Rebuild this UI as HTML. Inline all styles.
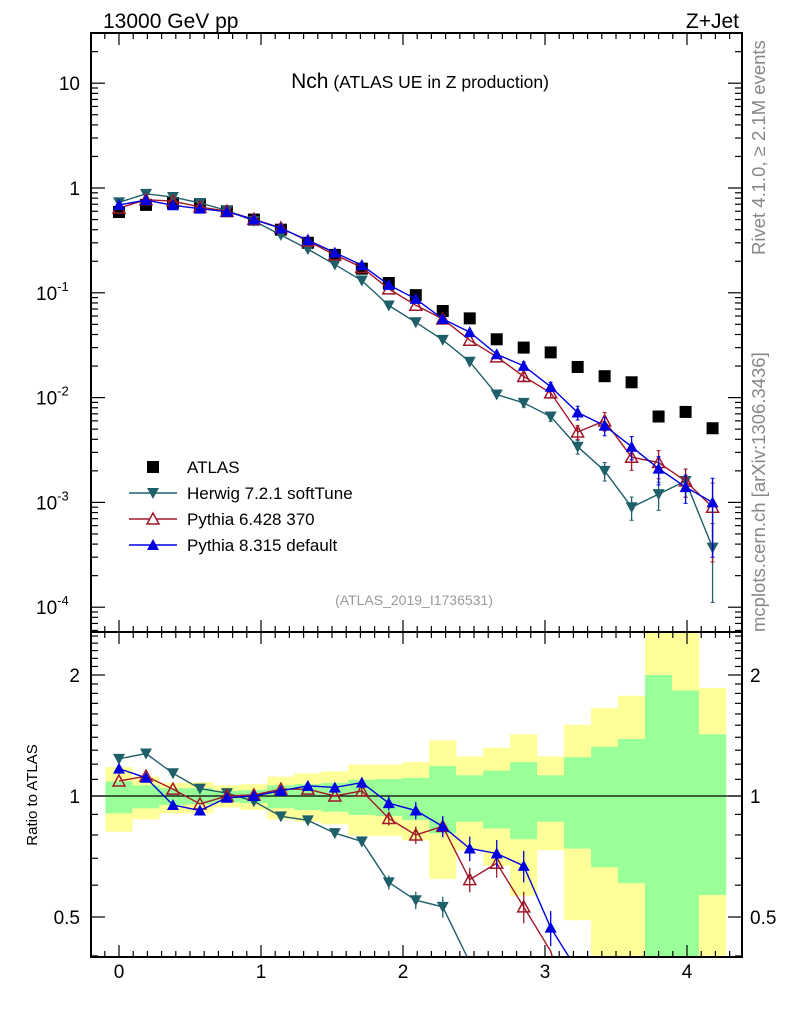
<!DOCTYPE html>
<html><head><meta charset="utf-8"><style>
html,body{margin:0;background:#fff;overflow:hidden;width:786px;height:1024px}
svg{display:block;font-family:"Liberation Sans",sans-serif;overflow:hidden}
</style></head><body>
<svg id="c" width="786" height="1024" viewBox="0 0 786 1024">
<g id="bands"></g><g id="marks"></g><g id="axes"></g>
<text x="103" y="28" font-size="21">13000 GeV pp</text>
<text x="739" y="28" font-size="21" text-anchor="end">Z+Jet</text>
<text x="420" y="88" text-anchor="middle"><tspan font-size="21">Nch</tspan><tspan font-size="17.5"> (ATLAS UE in Z production)</tspan></text>
<text x="414" y="605" font-size="14" fill="#999" text-anchor="middle">(ATLAS_2019_I1736531)</text>
<text transform="translate(765,255) rotate(-90)" font-size="18.5" fill="#888" x="0" y="0">Rivet 4.1.0, ≥ 2.1M events</text>
<text transform="translate(765,632) rotate(-90)" font-size="18.5" fill="#888" x="0" y="0">mcplots.cern.ch [arXiv:1306.3436]</text>
<text transform="translate(37,795) rotate(-90)" font-size="15" text-anchor="middle" x="0" y="0">Ratio to ATLAS</text>
<g>
<rect x="147" y="461" width="12" height="12" fill="#000"/>
<text x="187" y="473" font-size="17">ATLAS</text>
<line x1="129" y1="493" x2="177" y2="493" stroke="#1f5f6a" stroke-width="1.5"/><path d="M147,488 L159,488 L153,499 Z" fill="#1f5f6a"/>
<text x="187" y="499" font-size="17">Herwig 7.2.1 softTune</text>
<line x1="129" y1="519" x2="177" y2="519" stroke="#a0182a" stroke-width="1.5"/><path d="M153,513 L159,524 L147,524 Z" fill="#fff" stroke="#a0182a" stroke-width="1.5"/>
<text x="187" y="525" font-size="17">Pythia 6.428 370</text>
<line x1="129" y1="545" x2="177" y2="545" stroke="#0000e0" stroke-width="1.5"/><path d="M153,539 L159,550 L147,550 Z" fill="#0000e0"/>
<text x="187" y="551" font-size="17">Pythia 8.315 default</text>
</g>
</svg>
<script>
const xVals=[0,0.19,0.38,0.57,0.76,0.95,1.14,1.33,1.52,1.71,1.9,2.09,2.28,2.47,2.66,2.85,3.04,3.23,3.42,3.61,3.80,3.99,4.18];
const atlas=[0.59,0.69,0.72,0.69,0.60,0.50,0.40,0.30,0.23,0.17,0.124,0.095,0.067,0.057,0.036,0.030,0.027,0.0196,0.016,0.014,0.0066,0.0073,0.0051];
const herwig=[0.73,0.88,0.82,0.72,0.61,0.485,0.356,0.261,0.186,0.131,0.0756,0.0523,0.0355,0.022,0.0107,0.0089,0.0066,0.0034,0.002,0.0009,0.0012,0.0016,0.00037];
const pythia6=[0.643,0.773,0.749,0.659,0.6,0.503,0.416,0.312,0.23,0.175,0.109,0.076,0.0563,0.0353,0.0245,0.0159,0.0111,0.0047,0.006,0.0027,0.0024,0.0016,0.0009];
const pythia8=[0.69,0.766,0.684,0.635,0.594,0.5,0.412,0.318,0.2415,0.1836,0.119,0.0874,0.0563,0.0422,0.0259,0.0201,0.0127,0.0072,0.0054,0.0034,0.0021,0.0014,0.001];
const relErr=[0.02,0.02,0.02,0.02,0.02,0.02,0.02,0.02,0.02,0.03,0.04,0.05,0.06,0.07,0.08,0.09,0.1,0.15,0.2,0.25,0.3,0.3,0.7];
const yellowHi=[1.18,1.117,1.077,1.083,1.063,1.07,1.117,1.139,1.152,1.197,1.197,1.214,1.376,1.254,1.318,1.424,1.254,1.503,1.655,1.775,2.6,2.6,1.857];
const greenHi=[1.087,1.063,1.046,1.046,1.03,1.034,1.063,1.07,1.077,1.098,1.102,1.109,1.186,1.126,1.157,1.214,1.126,1.249,1.326,1.386,2.0,1.83,1.424];
const greenLo=[0.906,0.932,0.95,0.954,0.965,0.96,0.932,0.923,0.914,0.897,0.892,0.871,0.807,0.863,0.83,0.781,0.863,0.74,0.665,0.607,0.3,0.3,0.567];
const yellowLo=[0.815,0.875,0.906,0.906,0.936,0.923,0.875,0.863,0.85,0.796,0.796,0.776,0.622,0.733,0.671,0.565,0.733,0.491,0.3,0.3,0.3,0.3,0.3];
const xTicks=[0,1,2,3,4];
const mainTicks=[10,1,0.1,0.01,0.001,0.0001];
const mainTickLabels=["10","1","10|-1","10|-2","10|-3","10|-4"];
const ratioTicks=[2,1,0.5];

const L=91,R=742,T=33,MB=632,RB=957;
const X=v=>119+(v)*142;
const Ym=v=>188-Math.log10(v)*104.8;
const Yr=v=>Math.min(RB,Math.max(MB,796-Math.log10(v)*402));
const NS="http://www.w3.org/2000/svg";
function mk(p,tag,at){const e=document.createElementNS(NS,tag);for(const k in at)e.setAttribute(k,at[k]);p.appendChild(e);return e;}
const bands=document.getElementById('bands'),marks=document.getElementById('marks'),axes=document.getElementById('axes');
const hw=13.6;
xVals.forEach((x,i)=>{
 let y=mk(bands,'rect',{x:X(x)-hw,y:Yr(yellowHi[i]),width:2*hw,height:Yr(yellowLo[i])-Yr(yellowHi[i]),fill:'#ffff99'});
 
 
 let g=mk(bands,'rect',{x:X(x)-hw,y:Yr(greenHi[i]),width:2*hw,height:Yr(greenLo[i])-Yr(greenHi[i]),fill:'#99ff99'});
 
 
});
mk(marks,'line',{x1:L,x2:R,y1:Yr(1),y2:Yr(1),stroke:'#000','stroke-width':1.3});
xVals.forEach((x,i)=>{
 const r=mk(marks,'rect',{x:X(x)-6,y:Ym(atlas[i])-6,width:12,height:12,fill:'#000'});
 
 
});
const series=[{d:herwig,c:'#1f5f6a',m:'down',n:'herwig'},{d:pythia6,c:'#a0182a',m:'open',n:'pythia6'},{d:pythia8,c:'#0000e0',m:'up',n:'pythia8'}];
function marker(g,x,y,s){
 if(s.m==='down')return mk(g,'path',{d:`M${x-6},${y-5} L${x+6},${y-5} L${x},${y+6} Z`,fill:s.c});
 if(s.m==='up')return mk(g,'path',{d:`M${x},${y-6} L${x+6},${y+5} L${x-6},${y+5} Z`,fill:s.c});
 return mk(g,'path',{d:`M${x},${y-6} L${x+6},${y+5} L${x-6},${y+5} Z`,fill:'none',stroke:s.c,'stroke-width':1.5});
}
// clip a polyline to y<=RB by computing segment intersections
function clippedRatioPoints(ys){
 const pts=[];
 for(let i=0;i<xVals.length;i++){
  const x=X(xVals[i]),y=ys[i];
  if(y<=RB){pts.push([x,y]);}
  if(i+1<xVals.length){
   const x2=X(xVals[i+1]),y2=ys[i+1];
   if((y<=RB)!==(y2<=RB)){const t=(RB-y)/(y2-y);pts.push([x+t*(x2-x),RB]);}
  }
 }
 return pts;
}
series.forEach(s=>{
 const gm=mk(marks,'g',{});
 
 
 mk(gm,'polyline',{points:xVals.map((x,i)=>X(x)+','+Ym(s.d[i])).join(' '),fill:'none',stroke:s.c,'stroke-width':1.4});
 const gr=mk(marks,'g',{});
 
 
 const rys=xVals.map((x,i)=>796-Math.log10(s.d[i]/atlas[i])*402);
 mk(gr,'polyline',{points:clippedRatioPoints(rys).map(p=>p[0]+','+p[1]).join(' '),fill:'none',stroke:s.c,'stroke-width':1.4});
 xVals.forEach((x,i)=>{
  const v=s.d[i],e=relErr[i];
  const y1=Ym(v*(1+e)),y2=Ym(Math.max(v*(1-e),1e-6));
  if(y2-y1>8){mk(gm,'line',{x1:X(x),x2:X(x),y1:y1,y2:Math.min(y2,MB),stroke:s.c,'stroke-width':1.3});
   mk(gm,'line',{x1:X(x)-2,x2:X(x)+2,y1:y1,y2:y1,stroke:s.c});if(y2<MB)mk(gm,'line',{x1:X(x)-2,x2:X(x)+2,y1:y2,y2:y2,stroke:s.c});}
  const p=marker(gm,X(x),Ym(v),s);
  
  
  const ry=rys[i];
  if(ry>RB-6) return;
  const r=v/atlas[i];
  const ry1=796-Math.log10(r*(1+e))*402,ry2=Math.min(RB,796-Math.log10(r*(1-e))*402);
  if(ry2-ry1>8){mk(gr,'line',{x1:X(x),x2:X(x),y1:ry1,y2:ry2,stroke:s.c,'stroke-width':1.3});}
  const q=marker(gr,X(x),ry,s);
  
  
 });
});
[[T,MB],[MB,RB]].forEach(([a,b])=>mk(axes,'rect',{x:L,y:a,width:R-L,height:b-a,fill:'none',stroke:'#000','stroke-width':2}));
for(let k=-1;k<=43;k++){const v=k/10,x=X(v);if(x<L||x>R)continue;const maj=k%10===0;const len=maj?12:6;
 [[T,1],[MB,-1],[MB,1],[RB,-1]].forEach(([y,d])=>mk(axes,'line',{x1:x,x2:x,y1:y,y2:y+d*len,stroke:'#000','stroke-width':1.2}));}
xTicks.forEach(v=>{const t=mk(axes,'text',{x:X(v),y:978,'font-size':19,'text-anchor':'middle'});t.textContent=v;
 
 });
for(let d=-5;d<=1;d++)for(let m=1;m<=9;m++){const v=m*Math.pow(10,d),y=Ym(v);if(y<T||y>MB)continue;const len=m===1?14:7;
 mk(axes,'line',{x1:L,x2:L+len,y1:y,y2:y,stroke:'#000','stroke-width':1.2});mk(axes,'line',{x1:R,x2:R-len,y1:y,y2:y,stroke:'#000','stroke-width':1.2});}
mainTicks.forEach((v,i)=>{const [b,e]=mainTickLabels[i].split('|');const t=mk(axes,'text',{x:80,y:Ym(v)+7,'font-size':19,'text-anchor':'end'});
 
 
 t.textContent=b;if(e){const s=mk(t,'tspan',{dy:-9,'font-size':13});s.textContent=e;t.setAttribute('text-anchor','start');t.setAttribute('x',36);}});
[0.4,0.5,0.6,0.7,0.8,0.9,1,2].forEach(v=>{const y=796-Math.log10(v)*402;const maj=[0.5,1,2].includes(v);const len=maj?14:7;
 mk(axes,'line',{x1:L,x2:L+len,y1:y,y2:y,stroke:'#000','stroke-width':1.2});mk(axes,'line',{x1:R,x2:R-len,y1:y,y2:y,stroke:'#000','stroke-width':1.2});});
for(let v=1.1;v<2.6;v+=0.1){if(Math.abs(v-2)<0.01)continue;const y=796-Math.log10(v)*402;if(y<MB)continue;
 mk(axes,'line',{x1:L,x2:L+7,y1:y,y2:y,stroke:'#000','stroke-width':1.2});mk(axes,'line',{x1:R,x2:R-7,y1:y,y2:y,stroke:'#000','stroke-width':1.2});}
ratioTicks.forEach(v=>{const y=796-Math.log10(v)*402+7;
 const a=mk(axes,'text',{x:80,y:y,'font-size':19,'text-anchor':'end'});a.textContent=v;
 
 
 const b=mk(axes,'text',{x:750,y:y,'font-size':19});b.textContent=v;
 
 });
</script>
</body></html>
